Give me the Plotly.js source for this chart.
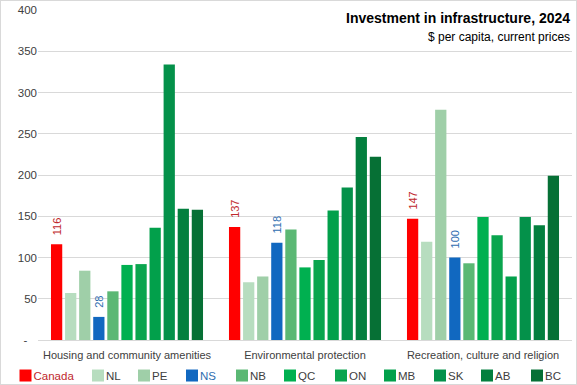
<!DOCTYPE html>
<html><head><meta charset="utf-8">
<script src="https://cdn.plot.ly/plotly-3.0.1.min.js"></script>
<style>html,body{margin:0;padding:0;background:#fff;}#chart{width:575px;height:383px;border:1px solid #D9D9D9;}</style>
</head><body><div id="chart"></div>
<script>
var categories = ["Housing and community amenities", "Environmental protection", "Recreation, culture and religion"];
var regions = ["Canada","NL","PE","NS","NB","QC","ON","MB","SK","AB","BC"];
var Canada = [116, 137, 147];
var NL = [57, 70, 119];
var PE = [84, 77, 279];
var NS = [28, 118, 100];
var NB = [59, 134, 93];
var QC = [91, 88, 149];
var ON = [92, 97, 127];
var MB = [136, 157, 77];
var SK = [334, 185, 149];
var AB = [159, 246, 139];
var BC = [158, 222, 199];
var yTickVals = [0,50,100,150,200,250,300,350,400];
var yTickText = ["-\u00a0\u00a0\u00a0","50","100","150","200","250","300","350","400"];

var series = [Canada,NL,PE,NS,NB,QC,ON,MB,SK,AB,BC];
var colors = ["#FF0000","#B7DDBF","#9FCFA8","#1168C0","#5BB874","#00B050","#0AA54E","#02A04B","#04914A","#037F3E","#067035"];
var legendWidths = [27.5, 1, 3, 5, 3, 6, 4, 5, 2, 5, 3];
var labelColors = {"Canada":"#C0282D","NS":"#2F6DB0"};
var font = "Liberation Sans, Arial, sans-serif";
var traces = regions.map(function(r,i){
  var t = {type:"bar", name:r, x:categories, y:series[i], marker:{color:colors[i]}, hoverinfo:"none", legendwidth:legendWidths[i]};
  if (labelColors[r]) {
    t.text = series[i].map(function(v){ return "\u00a0\u00a0" + v; });
    t.textposition = "outside";
    t.textangle = -90;
    t.textfont = {color:labelColors[r], size:11, family:font};
    t.cliponaxis = false;
    t.constraintext = "none";
  }
  return t;
});
var layout = {
  width:575, height:383,
  margin:{l:37, r:4, t:9, b:44},
  barmode:"group", bargap:0.13, bargroupgap:0.2,
  paper_bgcolor:"#fff", plot_bgcolor:"#fff",
  showlegend:true,
  font:{family:font, size:11, color:"#404040"},
  xaxis:{showgrid:false, showline:true, linecolor:"#D9D9D9", linewidth:1, ticks:"", ticklabelstandoff:5, tickfont:{size:11, color:"#404040"}, fixedrange:true, automargin:false},
  yaxis:{range:[0,400], tickvals:yTickVals, ticktext:yTickText, showgrid:true, gridcolor:"#D9D9D9", gridwidth:1, zeroline:false, showline:false, ticks:"", tickfont:{size:11.5, color:"#404040"}, fixedrange:true, automargin:false},
  legend:{orientation:"h", x:-0.058, xanchor:"left", y:-0.04, yanchor:"bottom", font:{size:11.5, color:"#404040"}, itemwidth:30, traceorder:"normal", bgcolor:"rgba(0,0,0,0)"},
  annotations:[
    {xref:"paper", yref:"paper", x:1, y:1.005, xanchor:"right", yanchor:"top", showarrow:false,
     text:"<b>Investment in infrastructure, 2024</b>", font:{family:font, size:14, color:"#000"}},
    {xref:"paper", yref:"paper", x:1, y:0.945, xanchor:"right", yanchor:"top", showarrow:false,
     text:"$ per capita, current prices", font:{family:font, size:12, color:"#000"}}
  ]
};
Plotly.newPlot("chart", traces, layout, {displayModeBar:false, staticPlot:true}).then(function(){
  var leg = document.querySelector("g.legend");
  if (!leg) return;
  leg.querySelectorAll("[clip-path]").forEach(function(el){ el.removeAttribute("clip-path"); });
  leg.querySelectorAll("text.legendtext").forEach(function(tx){
    var x = parseFloat(tx.getAttribute("x")) || 0;
    tx.setAttribute("x", x - 12);
    tx.querySelectorAll("tspan[x]").forEach(function(ts){
      ts.setAttribute("x", (parseFloat(ts.getAttribute("x")) || 0) - 12);
    });
    var name = tx.textContent;
    if (labelColors[name]) tx.style.fill = labelColors[name];
  });
  var firstText = leg.querySelector("text.legendtext");
  var firstSym = leg.querySelector(".legendpoints path");
  var tb = firstText.getBoundingClientRect();
  var sb = firstSym ? firstSym.getBoundingClientRect() : tb;
  var dy = 376 - (tb.top + tb.height / 2);
  var dx = 25.5 - (sb.left + sb.width / 2);
  var tr = leg.getAttribute("transform") || "";
  var m = /translate\(\s*([-\d.e]+)[ ,]+([-\d.e]+)\s*\)/.exec(tr);
  var tx0 = m ? parseFloat(m[1]) : 0, ty0 = m ? parseFloat(m[2]) : 0;
  leg.setAttribute("transform", "translate(" + (tx0 + dx) + "," + (ty0 + dy) + ")");
});
</script></body></html>
